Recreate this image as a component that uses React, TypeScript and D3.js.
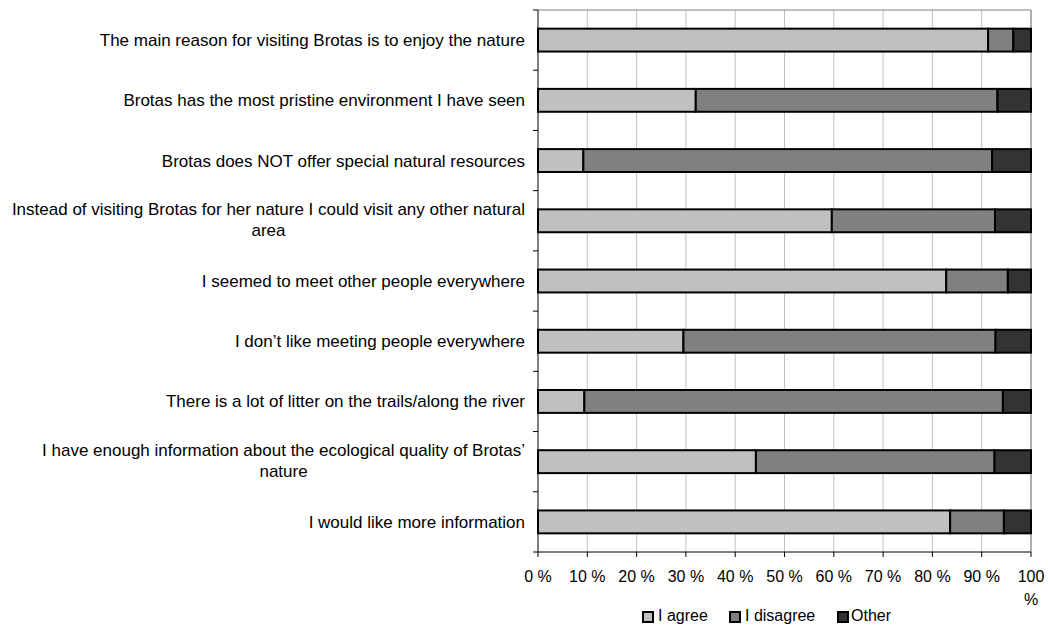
import React from 'react'
import * as d3 from 'd3'

const categories = [
    'The main reason for visiting Brotas is to enjoy the nature',
    'Brotas has the most pristine environment I have seen ',
    'Brotas does NOT offer special natural resources',
    'Instead of visiting Brotas for her nature I could visit any other natural|area',
    'I seemed to meet other people everywhere',
    'I don\u2019t like meeting people everywhere',
    'There is a lot of litter on the trails/along the river',
    'I have enough information about the ecological quality of Brotas\u2019|nature',
    'I would like more information',
]

const agree = [91.3, 32.0, 9.2, 59.6, 82.8, 29.5, 9.4, 44.2, 83.6]
const disagree = [5.1, 61.2, 82.9, 33.1, 12.5, 63.3, 84.9, 48.4, 10.9]
const seriesNames = ['I agree', 'I disagree', 'Other']
const seriesColors = ['#c0c0c0', '#808080', '#333333']
const tickValues = [0, 10, 20, 30, 40, 50, 60, 70, 80, 90, 100]

const FONT = '"Liberation Sans", Arial, sans-serif'

const measure = (text: string, size: number) => {
    const c = document.createElement('canvas').getContext('2d')
    if (!c) return text.length * size * 0.5
    c.font = `${size}px "Liberation Sans"`
    return c.measureText(text).width
}

const App = () => {
    const width = 1048
    const height = 628
    const left = 538
    const right = 1031
    const top = 10
    const bottom = 552
    const fs = 17 // category labels
    const ts = 16 // ticks, legend

    const x = d3.scaleLinear().domain([0, 100]).range([left, right])
    const y = d3.scaleBand<string>().domain(categories).range([top, bottom]).paddingInner(0.62).paddingOuter(0.31)
    const step = y.step()

    const rows = categories.map((c, i) => {
        const other = 100 - agree[i] - disagree[i]
        return { c, vals: [agree[i], disagree[i], other] }
    })

    const legendBox = [643, 730, 838]
    const legendText = [658, 745, 851]

    return (
        <div style={{ position: 'absolute', left: 0, top: 0 }}>
            <svg width={width} height={height} style={{ display: 'block', fontFamily: FONT }}>
                <rect width={width} height={height} fill="white" />
                {/* grid */}
                {tickValues.slice(1).map(t => (
                    <line key={`g${t}`} x1={x(t)} x2={x(t)} y1={top} y2={bottom} stroke="#c0c0c0" strokeWidth={1} />
                ))}
                <line x1={left} x2={right} y1={top} y2={top} stroke="#808080" strokeWidth={1} />
                <line x1={right} x2={right} y1={top} y2={bottom} stroke="#808080" strokeWidth={1} />
                {/* bars */}
                {rows.map(r => {
                    let acc = 0
                    return r.vals.map((v, k) => {
                        const x0 = x(acc)
                        acc += v
                        const x1 = x(acc)
                        return <rect key={`${r.c}-${k}`} x={x0} y={y(r.c)} width={x1 - x0} height={y.bandwidth()}
                                     fill={seriesColors[k]} stroke="black" strokeWidth={2} />
                    })
                })}
                {/* axes */}
                <line x1={left} x2={left} y1={top} y2={bottom} stroke="black" strokeWidth={1} />
                {d3.range(categories.length + 1).map(i => (
                    <line key={`yt${i}`} x1={left - 5} x2={left} y1={top + i * step} y2={top + i * step} stroke="black" />
                ))}
                <line x1={left} x2={right} y1={bottom} y2={bottom} stroke="black" strokeWidth={1} />
                {tickValues.map(t => (
                    <line key={`xt${t}`} x1={x(t)} x2={x(t)} y1={bottom} y2={bottom + 5} stroke="black" />
                ))}
                {tickValues.map(t => t < 100 ? (
                    <text key={`xl${t}`} x={x(t)} y={bottom + 30} textAnchor="middle" fontSize={ts}>{`${t} %`}</text>
                ) : (
                    <text key={`xl${t}`} x={x(t)} y={bottom + 30} textAnchor="middle" fontSize={ts}>
                        <tspan x={x(t)}>100</tspan>
                        <tspan x={x(t)} dy={23}>%</tspan>
                    </text>
                ))}
                {/* category labels */}
                {categories.map(c => {
                    const lines = c.split('|')
                    const cy = (y(c) ?? 0) + y.bandwidth() / 2
                    if (lines.length === 1) {
                        return <text key={c} x={525} y={cy + 6} textAnchor="end" fontSize={fs}>{lines[0]}</text>
                    }
                    const w = measure(lines[0], fs)
                    const mid = 525 - w / 2
                    return (
                        <text key={c} fontSize={fs} textAnchor="middle">
                            <tspan x={mid} y={cy - 6}>{lines[0]}</tspan>
                            <tspan x={mid} y={cy + 15}>{lines[1]}</tspan>
                        </text>
                    )
                })}
                {/* legend */}
                {seriesNames.map((s, k) => (
                    <g key={s}>
                        <rect x={legendBox[k]} y={612} width={10} height={10} fill={seriesColors[k]} stroke="black" strokeWidth={2} />
                        <text x={legendText[k]} y={621} fontSize={ts}>{s}</text>
                    </g>
                ))}
            </svg>
        </div>
    )
}

export default App
